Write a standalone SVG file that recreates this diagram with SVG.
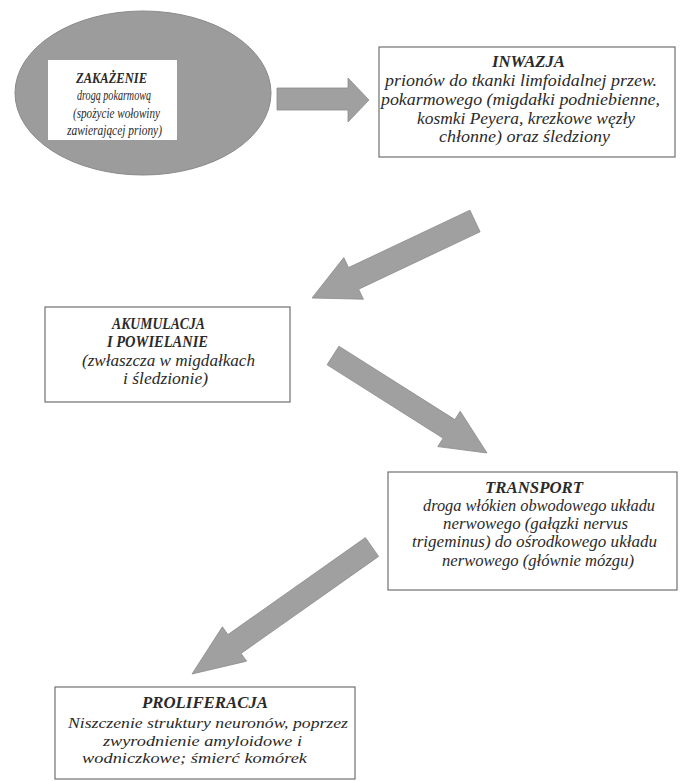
<svg xmlns="http://www.w3.org/2000/svg" width="684" height="781" viewBox="0 0 684 781">
<style>
.bg{fill:#ffffff}
.box{fill:#ffffff;stroke:#707070;stroke-width:1.2}
.oval{fill:#9c9c9c;stroke:#8a8a8a;stroke-width:1}
.inner{fill:#ffffff}
.arrow{fill:#a0a0a0;stroke:#8c8c8c;stroke-width:0.8;stroke-linejoin:miter}
text{font-family:"Liberation Serif","Times New Roman","DejaVu Serif",serif;font-style:italic;fill:#2a2a2a}
.h{font-weight:bold;font-size:16px}
.t{font-size:16px}
.tp{font-size:15px}
.sh{font-weight:bold;font-size:14.5px}
.st{font-size:14.5px}
</style>
<rect class="bg" x="0" y="0" width="684" height="781"/>

<g id="connectors">
  <polygon id="arrow-zakazenie-inwazja" class="arrow" points="277,88 348,88 348,78 369,100 348,122 348,110 277,110"/>
  <polygon id="arrow-inwazja-akumulacja" class="arrow" points="469.9,210.2 348.5,267.6 343.8,257.6 312,298 363.4,299.2 358.7,289.2 480.1,231.8"/>
  <polygon id="arrow-akumulacja-transport" class="arrow" points="338.9,346.2 454.9,419.6 460.2,411.2 487,453 437.8,446.6 443.1,438.2 327.1,364.8"/>
  <polygon id="arrow-transport-proliferacja" class="arrow" points="365.4,537.6 227.9,634.6 222.4,626.8 192,674 246.6,661.2 241.1,653.4 378.6,556.4"/>
</g>

<g id="node-zakazenie">
  <ellipse class="oval" cx="143" cy="93" rx="128" ry="82"/>
  <rect class="inner" x="48" y="60" width="129" height="80"/>
  <text class="sh" x="76" y="83" textLength="71" lengthAdjust="spacingAndGlyphs">ZAKAŻENIE</text>
  <text class="st" x="77" y="100" textLength="74" lengthAdjust="spacingAndGlyphs">drogą pokarmową</text>
  <text class="st" x="73" y="117.5" textLength="87" lengthAdjust="spacingAndGlyphs">(spożycie wołowiny</text>
  <text class="st" x="67" y="135" textLength="95" lengthAdjust="spacingAndGlyphs">zawierającej priony)</text>
</g>

<g id="node-inwazja">
  <rect class="box" x="379" y="47" width="296" height="110"/>
  <text class="h" x="492" y="67" textLength="73" lengthAdjust="spacingAndGlyphs">INWAZJA</text>
  <text class="t" x="385" y="86" textLength="272" lengthAdjust="spacingAndGlyphs">prionów do tkanki limfoidalnej przew.</text>
  <text class="t" x="381" y="105" textLength="279" lengthAdjust="spacingAndGlyphs">pokarmowego (migdałki podniebienne,</text>
  <text class="t" x="417" y="123.5" textLength="218" lengthAdjust="spacingAndGlyphs">kosmki Peyera, krezkowe węzły</text>
  <text class="t" x="439" y="142" textLength="171" lengthAdjust="spacingAndGlyphs">chłonne) oraz śledziony</text>
</g>

<g id="node-akumulacja">
  <rect class="box" x="45" y="307" width="245" height="95"/>
  <text class="h" x="112" y="329" textLength="93" lengthAdjust="spacingAndGlyphs">AKUMULACJA</text>
  <text class="h" x="107" y="347" textLength="101" lengthAdjust="spacingAndGlyphs">I POWIELANIE</text>
  <text class="t" x="82" y="366" textLength="173" lengthAdjust="spacingAndGlyphs">(zwłaszcza w migdałkach</text>
  <text class="t" x="123" y="384" textLength="85" lengthAdjust="spacingAndGlyphs">i śledzionie)</text>
</g>

<g id="node-transport">
  <rect class="box" x="388" y="472" width="289" height="118"/>
  <text class="h" x="485" y="493" textLength="98" lengthAdjust="spacingAndGlyphs">TRANSPORT</text>
  <text class="t" x="423" y="511" textLength="232" lengthAdjust="spacingAndGlyphs">droga włókien obwodowego układu</text>
  <text class="t" x="443" y="529" textLength="185" lengthAdjust="spacingAndGlyphs">nerwowego (gałązki nervus</text>
  <text class="t" x="412" y="547" textLength="245" lengthAdjust="spacingAndGlyphs">trigeminus) do ośrodkowego układu</text>
  <text class="t" x="442" y="566" textLength="192" lengthAdjust="spacingAndGlyphs">nerwowego (głównie mózgu)</text>
</g>

<g id="node-proliferacja">
  <rect class="box" x="55" y="687" width="300" height="92"/>
  <text class="h" x="142" y="708" textLength="126" lengthAdjust="spacingAndGlyphs">PROLIFERACJA</text>
  <text class="tp" x="68" y="728" textLength="280" lengthAdjust="spacingAndGlyphs">Niszczenie struktury neuronów, poprzez</text>
  <text class="tp" x="103" y="746" textLength="199" lengthAdjust="spacingAndGlyphs">zwyrodnienie amyloidowe i</text>
  <text class="tp" x="82" y="763" textLength="225" lengthAdjust="spacingAndGlyphs">wodniczkowe; śmierć komórek</text>
</g>
</svg>
